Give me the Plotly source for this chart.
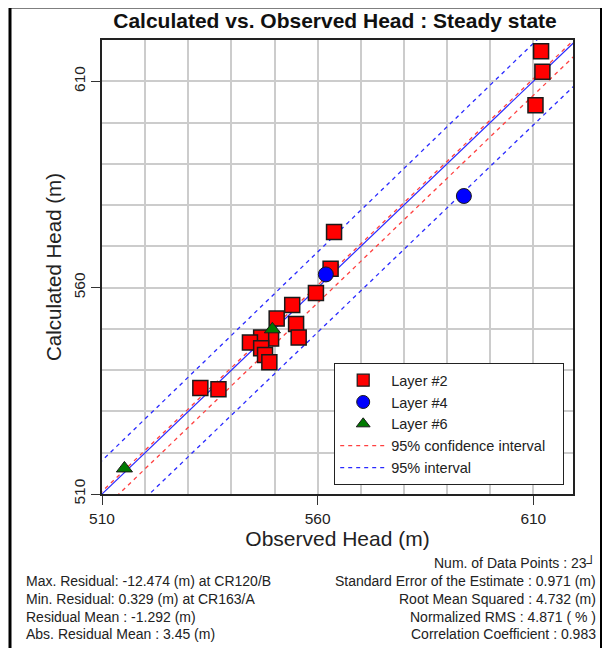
import plotly.graph_objects as go

# ---- data ----
layer2_obs = [611.8, 612.1, 610.5, 563.8, 563.0, 559.6, 554.1, 550.5, 555.0, 555.6,
              549.2, 546.9, 544.3, 546.9, 547.8, 548.8, 532.8, 537.0]
layer2_calc = [617.3, 612.3, 604.2, 573.5, 564.6, 558.7, 555.8, 552.5, 551.2, 547.9,
               547.7, 547.9, 546.7, 545.3, 543.7, 541.9, 535.7, 535.4]
layer4_obs = [593.9, 561.9]
layer4_calc = [582.2, 563.2]
layer6_obs = [515.2, 549.5]
layer6_calc = [516.2, 549.9]

line_x = [500, 630]
one_to_one = [500, 630]
conf_upper = [500.6, 630.6]
conf_lower = [496.0, 626.7]
pred_upper = [508.0, 639.4]
pred_lower = [488.9, 619.5]

x_ticks = [510, 560, 610]
y_ticks = [510, 560, 610]
x_range = [510, 619.2]
y_range = [510, 620]

title = "Calculated vs. Observed Head : Steady state"
x_title = "Observed Head (m)"
y_title = "Calculated Head (m)"
legend_names = ["Layer #2", "Layer #4", "Layer #6", "95% confidence interval", "95% interval"]
stats_left = ["Max. Residual: -12.474 (m) at CR120/B",
              "Min. Residual: 0.329 (m) at CR163/A",
              "Residual Mean : -1.292 (m)",
              "Abs. Residual Mean : 3.45 (m)"]
stats_right = ["Num. of Data Points : 23\u2518",
               "Standard Error of the Estimate : 0.971 (m)",
               "Root Mean Squared : 4.732 (m)",
               "Normalized RMS : 4.871 ( % )",
               "Correlation Coefficient : 0.983"]

FONT = "Liberation Sans, Arial, sans-serif"
RED, BLUE, GREEN, EDGE = "#ff0000", "#0000ff", "#007a00", "#1a1a1a"
LRED, LBLUE = "#ff4040", "#2a2aff"
dash = "4px,4px"
fig = go.Figure()

# reference / interval lines
fig.add_trace(go.Scatter(x=line_x, y=one_to_one, mode="lines",
                         line=dict(color=LBLUE, width=1.2), showlegend=False, hoverinfo="skip"))
for ys, col in [(conf_upper, LRED), (conf_lower, LRED), (pred_upper, LBLUE), (pred_lower, LBLUE)]:
    fig.add_trace(go.Scatter(x=line_x, y=ys, mode="lines", showlegend=False,
                             line=dict(color=col, width=1.3, dash=dash)))

# data markers
fig.add_trace(go.Scatter(x=layer2_obs, y=layer2_calc, mode="markers", showlegend=False,
                         marker=dict(symbol="square", size=15, color=RED,
                                     line=dict(color=EDGE, width=1.5))))
fig.add_trace(go.Scatter(x=layer4_obs, y=layer4_calc, mode="markers", showlegend=False,
                         marker=dict(symbol="circle", size=15, color=BLUE,
                                     line=dict(color=EDGE, width=1))))
fig.add_trace(go.Scatter(x=layer6_obs, y=layer6_calc, mode="markers", showlegend=False,
                         marker=dict(symbol="triangle-up", size=14, color=GREEN,
                                     line=dict(color=EDGE, width=1))))

# legend entries (smaller symbols, as in the reference legend)
pad = "\u00a0" * 3
fig.add_trace(go.Scatter(x=[None], y=[None], mode="markers", name=legend_names[0],
                         marker=dict(symbol="square", size=12, color=RED, line=dict(color=EDGE, width=1.2))))
fig.add_trace(go.Scatter(x=[None], y=[None], mode="markers", name=legend_names[1],
                         marker=dict(symbol="circle", size=13, color=BLUE, line=dict(color=EDGE, width=1))))
fig.add_trace(go.Scatter(x=[None], y=[None], mode="markers", name=legend_names[2],
                         marker=dict(symbol="triangle-up", size=12, color=GREEN, line=dict(color=EDGE, width=1))))
fig.add_trace(go.Scatter(x=[None], y=[None], mode="lines", name=legend_names[3] + pad,
                         line=dict(color=LRED, width=1.3, dash=dash)))
fig.add_trace(go.Scatter(x=[None], y=[None], mode="lines", name=legend_names[4],
                         line=dict(color=LBLUE, width=1.3, dash=dash)))

axis_common = dict(
    tickmode="array", showgrid=True, gridcolor="#cccccc", gridwidth=1.5,
    minor=dict(dtick=10, tick0=510, showgrid=True, gridcolor="#cccccc", gridwidth=1.5, ticks=""),
    ticks="outside", ticklen=9, tickwidth=1.2, tickcolor="#333",
    showline=True, linecolor="#222", linewidth=2, mirror=True, zeroline=False,
    tickfont=dict(family=FONT, size=15.5, color="#222"),
)
fig.update_xaxes(**axis_common, range=x_range, tickvals=x_ticks,
                 title=dict(text=x_title, font=dict(family=FONT, size=21, color="#222"), standoff=4))
fig.update_yaxes(**axis_common, range=y_range, tickvals=y_ticks, tickangle=-90,
                 title=dict(text=y_title, font=dict(family=FONT, size=20.5, color="#222"), standoff=4))

# page body has an 8px margin: figure is 602x640 and shifted by 8px
fig.update_layout(
    width=602, height=640,
    margin=dict(l=94, r=37, t=32, b=154),
    paper_bgcolor="white", plot_bgcolor="white",
    title=dict(text="<b>" + title + "</b>", x=327 / 602, xanchor="center",
               y=1 - 13 / 640, yanchor="middle", font=dict(family=FONT, size=21, color="#111")),
    legend=dict(x=(334 - 102) / 471, y=(494 - 363) / 454, xanchor="left", yanchor="top",
                bgcolor="white", bordercolor="#222", borderwidth=1.2,
                font=dict(family=FONT, size=14.5, color="#222"), tracegroupgap=0,
                itemwidth=46),
    showlegend=True,
)

# stats text (paper coords relative to plot area)
left_y = [581, 599, 617, 634]
for s, yy in zip(stats_left, left_y):
    fig.add_annotation(text=s, xref="paper", yref="paper",
                       x=(24 - 102) / 471, y=(494 - yy) / 454, xanchor="left", yanchor="middle",
                       showarrow=False, font=dict(family=FONT, size=14, color="#222"))
right_y = [563, 581, 599, 617, 634]
for s, yy in zip(stats_right, right_y):
    fig.add_annotation(text=s, xref="paper", yref="paper",
                       x=(598 - 102) / 471, y=(494 - yy) / 454, xanchor="right", yanchor="middle",
                       showarrow=False, font=dict(family=FONT, size=14, color="#222"))

# outer frame
fig.add_shape(type="line", xref="paper", yref="paper",
              x0=(10 - 102) / 471, x1=(10 - 102) / 471, y0=(494 - 7) / 454, y1=(494 - 660) / 454,
              line=dict(color="black", width=3))
fig.add_shape(type="line", xref="paper", yref="paper",
              x0=(10 - 102) / 471, x1=(601 - 102) / 471, y0=(494 - 7) / 454, y1=(494 - 7) / 454,
              line=dict(color="black", width=3))
fig.add_shape(type="line", xref="paper", yref="paper",
              x0=(601 - 102) / 471, x1=(601 - 102) / 471, y0=(494 - 7) / 454, y1=(494 - 660) / 454,
              line=dict(color="black", width=2))

fig.write_html("out.html")
